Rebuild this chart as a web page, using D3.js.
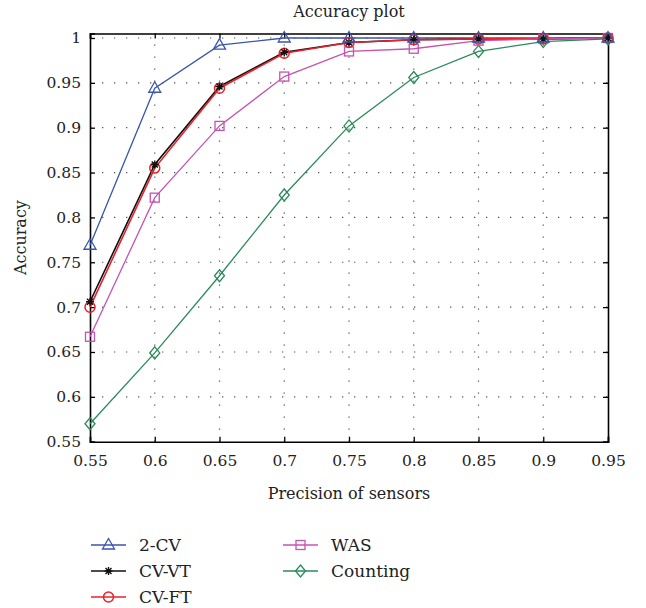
<!DOCTYPE html>
<html>
<head>
<meta charset="utf-8">
<script src="https://cdn.jsdelivr.net/npm/d3@7"></script>
<style>
  body { margin: 0; background: #fff; }
  text { font-family: "DejaVu Serif", "Liberation Serif", serif; fill: #222; }
</style>
</head>
<body>
<script>
// data
const precision = [0.55, 0.6, 0.65, 0.7, 0.75, 0.8, 0.85, 0.9, 0.95];
const cv2 = [0.769, 0.944, 0.992, 1.0, 1.0, 1.0, 1.0, 1.0, 1.0];
const cvVT = [0.706, 0.859, 0.946, 0.984, 0.995, 0.998, 0.999, 0.999, 1.0];
const cvFT = [0.700, 0.855, 0.944, 0.983, 0.995, 0.998, 0.999, 0.999, 1.0];
const was = [0.667, 0.822, 0.902, 0.957, 0.985, 0.988, 0.997, 0.999, 1.0];
const counting = [0.570, 0.649, 0.735, 0.825, 0.902, 0.956, 0.985, 0.996, 0.999];
const xTicks = [0.55, 0.6, 0.65, 0.7, 0.75, 0.8, 0.85, 0.9, 0.95];
const yTicks = [0.55, 0.6, 0.65, 0.7, 0.75, 0.8, 0.85, 0.9, 0.95, 1];

const series = [
  { name: "2-CV", values: cv2, color: "#3a56ad", marker: "triangle", width: 1.3 },
  { name: "CV-VT", values: cvVT, color: "#111", marker: "star", width: 1.6 },
  { name: "CV-FT", values: cvFT, color: "#e8212b", marker: "circle", width: 1.6 },
  { name: "WAS", values: was, color: "#c653b2", marker: "square", width: 1.3 },
  { name: "Counting", values: counting, color: "#2a8a5a", marker: "diamond", width: 1.3 }
];

const W = 646, H = 608;
const m = { left: 90, right: 608, top: 33.5, bottom: 441.7 };

const svg = d3.select("body").append("svg").attr("width", W).attr("height", H);

const x = d3.scaleLinear().domain([0.55, 0.95]).range([m.left, m.right]);
const y = d3.scaleLinear().domain([0.55, 1.005]).range([m.bottom, m.top]);

// dotted grid
const grid = svg.append("g").attr("stroke", "#555").attr("stroke-width", 1.2)
  .attr("stroke-dasharray", "1.3,10.7");
grid.selectAll(".gx").data(xTicks.slice(1, -1)).join("line")
  .attr("x1", d => x(d)).attr("x2", d => x(d))
  .attr("y1", m.bottom).attr("y2", m.top);
grid.selectAll(".gy").data(yTicks.slice(1)).join("line")
  .attr("y1", d => y(d)).attr("y2", d => y(d))
  .attr("x1", m.left).attr("x2", m.right);

// axes (ticks pointing inward, box on)
const tickFont = "15.5px";
svg.append("g").attr("transform", `translate(0,${m.bottom})`)
  .call(d3.axisTop(x).tickValues(xTicks).tickSize(5).tickFormat(""));
svg.append("g").attr("transform", `translate(0,${m.bottom})`)
  .call(d3.axisBottom(x).tickValues(xTicks).tickSize(0).tickPadding(13).tickFormat(d => String(d)))
  .call(g => g.select(".domain").remove())
  .selectAll("text").style("font-size", tickFont).attr("font-family", null);

svg.append("g").attr("transform", `translate(${m.left},0)`)
  .call(d3.axisRight(y).tickValues(yTicks).tickSize(5).tickFormat(""));
svg.append("g").attr("transform", `translate(${m.left},0)`)
  .call(d3.axisLeft(y).tickValues(yTicks).tickSize(0).tickPadding(9).tickFormat(d => String(d)))
  .call(g => g.select(".domain").remove())
  .selectAll("text").style("font-size", tickFont).attr("font-family", null);

svg.append("g").attr("transform", `translate(${m.right},0)`)
  .call(d3.axisLeft(y).tickValues(yTicks).tickSize(5).tickFormat(""));
svg.append("g").attr("transform", `translate(0,${m.top})`)
  .call(d3.axisBottom(x).tickValues(xTicks).tickSize(5).tickFormat(""));

svg.selectAll(".domain, .tick line").attr("stroke", "#000").attr("stroke-width", 1.3);
svg.selectAll(".domain").attr("stroke-width", 1.6);

// markers
function drawMarker(g, type, color) {
  if (type === "triangle") {
    g.append("path").attr("d", "M0,-6.5L6,4L-6,4Z").attr("fill", "none").attr("stroke", color).attr("stroke-width", 1.3);
  } else if (type === "circle") {
    g.append("circle").attr("r", 5).attr("fill", "none").attr("stroke", color).attr("stroke-width", 1.5);
  } else if (type === "square") {
    g.append("rect").attr("x", -4.5).attr("y", -4.5).attr("width", 9).attr("height", 9)
      .attr("fill", "none").attr("stroke", color).attr("stroke-width", 1.3);
  } else if (type === "diamond") {
    g.append("path").attr("d", "M0,-6L5,0L0,6L-5,0Z").attr("fill", "none").attr("stroke", color).attr("stroke-width", 1.3);
  } else if (type === "star") {
    g.append("path").attr("d", "M-4,0H4M0,-4V4M-3,-3L3,3M-3,3L3,-3")
      .attr("stroke", color).attr("stroke-width", 1.4);
  }
}

const line = d3.line().x((d, i) => x(precision[i])).y(d => y(d));

series.forEach(s => {
  svg.append("path").datum(s.values).attr("d", line)
    .attr("fill", "none").attr("stroke", s.color).attr("stroke-width", s.width);
});
// markers after lines, reverse order so 2-CV stays on top
series.slice().reverse().forEach(s => {
  s.values.forEach((v, i) => {
    const g = svg.append("g").attr("transform", `translate(${x(precision[i])},${y(v)})`);
    drawMarker(g, s.marker, s.color);
  });
});

// title and labels
svg.append("text").attr("x", (m.left + m.right) / 2).attr("y", 17)
  .attr("text-anchor", "middle").style("font-size", "16px").text("Accuracy plot");
svg.append("text").attr("x", (m.left + m.right) / 2).attr("y", 499)
  .attr("text-anchor", "middle").style("font-size", "16px").text("Precision of sensors");
svg.append("text").attr("transform", `translate(26,${(m.top + m.bottom) / 2}) rotate(-90)`)
  .attr("text-anchor", "middle").style("font-size", "16px").text("Accuracy");

// legend
const legendPos = [
  { x: 91, y: 545 }, { x: 91, y: 571 }, { x: 91, y: 597 },
  { x: 283, y: 545 }, { x: 283, y: 571 }
];
series.forEach((s, i) => {
  const p = legendPos[i];
  const g = svg.append("g").attr("transform", `translate(${p.x},${p.y})`);
  g.append("line").attr("x1", 0).attr("x2", 35).attr("stroke", s.color).attr("stroke-width", 1.5);
  const mg = g.append("g").attr("transform", "translate(17.5,0)");
  drawMarker(mg, s.marker, s.color);
  g.append("text").attr("x", 48).attr("y", 6).style("font-size", "17px").text(s.name);
});
</script>
</body>
</html>
